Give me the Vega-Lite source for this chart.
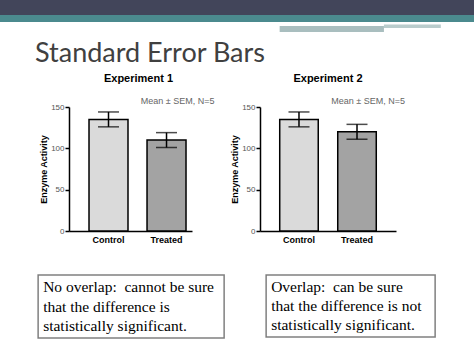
{
  "$schema": "https://vega.github.io/schema/vega-lite/v6.json",
  "padding": 0,
  "background": "white",
  "config": {"view": {"stroke": null}, "font": "Liberation Sans"},
  "resolve": {"scale": {"color": "independent"}},
  "center": true,
  "spacing": 6,
  "vconcat": [
    {
      "width": 474,
      "height": 32,
      "title": {"text": "Standard Error Bars", "orient": "bottom", "anchor": "start", "frame": "group", "dx": 35, "offset": 9, "fontSize": 27, "font": "Lato", "fontWeight": "normal", "color": "#404040"},
      "data": {"values": [
        {"band": "dark", "x0": 0, "x1": 100, "y0": 0, "y1": 15},
        {"band": "teal", "x0": 0, "x1": 100, "y0": 15, "y1": 22},
        {"band": "pale", "x0": 59, "x1": 81, "y0": 26, "y1": 32},
        {"band": "pale2", "x0": 81, "x1": 93, "y0": 24.5, "y1": 28}
      ]},
      "mark": {"type": "rect"},
      "encoding": {
        "x": {"field": "x0", "type": "quantitative", "scale": {"domain": [0, 100]}, "axis": null},
        "x2": {"field": "x1"},
        "y": {"field": "y0", "type": "quantitative", "scale": {"domain": [0, 32], "reverse": true}, "axis": null},
        "y2": {"field": "y1"},
        "color": {"field": "band", "type": "nominal", "scale": {"domain": ["dark", "teal", "pale", "pale2"], "range": ["#42455a", "#4b8a8e", "#a9bebf", "#b9cccc"]}, "legend": null}
      }
    },
    {
      "hconcat": [
        {
          "width": 123,
          "height": 124,
          "title": {"text": "Experiment 1", "fontSize": 11, "fontWeight": "bold", "font": "Liberation Sans", "color": "black", "dx": 8, "offset": 13},
          "data": {"values": [
            {"group": "Control", "mean": 135, "lo": 126, "hi": 144},
            {"group": "Treated", "mean": 110, "lo": 101, "hi": 119}
          ]},
          "encoding": {
            "x": {"field": "group", "type": "nominal", "scale": {"paddingInner": 0.328, "paddingOuter": 0.224, "align": 0.77},
              "axis": {"title": null, "labelAngle": 0, "ticks": false, "labelFontSize": 9, "labelFontWeight": "bold", "labelColor": "black", "labelPadding": 4, "domainColor": "black", "domainWidth": 1.5}}
          },
          "layer": [
            {
              "mark": {"type": "bar", "stroke": "black", "strokeWidth": 1.5},
              "encoding": {
                "y": {"field": "mean", "type": "quantitative", "scale": {"domain": [0, 150], "nice": false},
                  "axis": {"title": "Enzyme Activity", "values": [0, 50, 100, 150], "grid": false, "domainColor": "black", "domainWidth": 1.5, "tickColor": "black", "tickWidth": 1.5, "tickSize": 4, "labelColor": "#555555", "labelFontSize": 8, "labelPadding": 1, "titleFontSize": 9, "titleFontWeight": "bold", "titleColor": "black", "titlePadding": 2}},
                "color": {"field": "group", "type": "nominal", "scale": {"domain": ["Control", "Treated"], "range": ["#dadada", "#a3a3a3"]}, "legend": null}
              }
            },
            {
              "mark": {"type": "rule", "strokeWidth": 1.5, "color": "black"},
              "encoding": {
                "y": {"field": "lo", "type": "quantitative"},
                "y2": {"field": "hi"}
              }
            },
            {
              "mark": {"type": "tick", "size": 21, "thickness": 1.5, "color": "black", "orient": "horizontal"},
              "encoding": {
                "y": {"field": "lo", "type": "quantitative"}
              }
            },
            {
              "mark": {"type": "tick", "size": 21, "thickness": 1.5, "color": "black", "orient": "horizontal"},
              "encoding": {
                "y": {"field": "hi", "type": "quantitative"}
              }
            },
            {
              "data": {"values": [{"note": "Mean ± SEM, N=5"}]},
              "mark": {"type": "text", "fontSize": 9, "color": "#666666", "align": "right", "dx": 48, "dy": -6, "baseline": "middle"},
              "encoding": {
                "x": {"datum": "Treated"},
                "y": {"datum": 150},
                "text": {"field": "note"}
              }
            }
          ]
        },
        {
          "width": 136,
          "height": 124,
          "title": {"text": "Experiment 2", "fontSize": 11, "fontWeight": "bold", "font": "Liberation Sans", "color": "black", "offset": 13},
          "data": {"values": [
            {"group": "Control", "mean": 135, "lo": 126, "hi": 144},
            {"group": "Treated", "mean": 120, "lo": 111, "hi": 129}
          ]},
          "encoding": {
            "x": {"field": "group", "type": "nominal", "scale": {"paddingInner": 0.336, "paddingOuter": 0.34, "align": 0.5},
              "axis": {"title": null, "labelAngle": 0, "ticks": false, "labelFontSize": 9, "labelFontWeight": "bold", "labelColor": "black", "labelPadding": 4, "domainColor": "black", "domainWidth": 1.5}}
          },
          "layer": [
            {
              "mark": {"type": "bar", "stroke": "black", "strokeWidth": 1.5},
              "encoding": {
                "y": {"field": "mean", "type": "quantitative", "scale": {"domain": [0, 150], "nice": false},
                  "axis": {"title": "Enzyme Activity", "values": [0, 50, 100, 150], "grid": false, "domainColor": "black", "domainWidth": 1.5, "tickColor": "black", "tickWidth": 1.5, "tickSize": 4, "labelColor": "#555555", "labelFontSize": 8, "labelPadding": 1, "titleFontSize": 9, "titleFontWeight": "bold", "titleColor": "black", "titlePadding": 2}},
                "color": {"field": "group", "type": "nominal", "scale": {"domain": ["Control", "Treated"], "range": ["#dadada", "#a3a3a3"]}, "legend": null}
              }
            },
            {
              "mark": {"type": "rule", "strokeWidth": 1.5, "color": "black"},
              "encoding": {
                "y": {"field": "lo", "type": "quantitative"},
                "y2": {"field": "hi"}
              }
            },
            {
              "mark": {"type": "tick", "size": 21, "thickness": 1.5, "color": "black", "orient": "horizontal"},
              "encoding": {
                "y": {"field": "lo", "type": "quantitative"}
              }
            },
            {
              "mark": {"type": "tick", "size": 21, "thickness": 1.5, "color": "black", "orient": "horizontal"},
              "encoding": {
                "y": {"field": "hi", "type": "quantitative"}
              }
            },
            {
              "data": {"values": [{"note": "Mean ± SEM, N=5"}]},
              "mark": {"type": "text", "fontSize": 9, "color": "#666666", "align": "right", "dx": 48, "dy": -6, "baseline": "middle"},
              "encoding": {
                "x": {"datum": "Treated"},
                "y": {"datum": 150},
                "text": {"field": "note"}
              }
            }
          ]
        }
      ],
      "spacing": 15
    },
    {
      "width": 1,
      "height": 18,
      "data": {"values": []},
      "mark": "rect",
      "encoding": {}
    },
    {
      "hconcat": [
        {
          "width": 186,
          "height": 63,
          "view": {"stroke": "#808080", "strokeWidth": 1.5},
          "data": {"values": [
            {"line": 1, "text": "No overlap:\u00a0 cannot be sure"},
            {"line": 2, "text": "that the difference is"},
            {"line": 3, "text": "statistically significant."}
          ]},
          "mark": {"type": "text", "align": "left", "baseline": "middle", "font": "Liberation Serif", "fontSize": 15.5, "color": "black", "dx": 5},
          "encoding": {
            "x": {"datum": 0, "type": "quantitative", "scale": {"domain": [0, 1]}, "axis": null},
            "y": {"field": "line", "type": "ordinal", "scale": {"type": "point", "padding": 0.62}, "axis": null},
            "text": {"field": "text"}
          }
        },
        {
          "width": 169,
          "height": 62,
          "view": {"stroke": "#808080", "strokeWidth": 1.5},
          "data": {"values": [
            {"line": 1, "text": "Overlap:\u00a0 can be sure"},
            {"line": 2, "text": "that the difference is not"},
            {"line": 3, "text": "statistically significant."}
          ]},
          "mark": {"type": "text", "align": "left", "baseline": "middle", "font": "Liberation Serif", "fontSize": 15.5, "color": "black", "dx": 5},
          "encoding": {
            "x": {"datum": 0, "type": "quantitative", "scale": {"domain": [0, 1]}, "axis": null},
            "y": {"field": "line", "type": "ordinal", "scale": {"type": "point", "padding": 0.62}, "axis": null},
            "text": {"field": "text"}
          }
        }
      ],
      "spacing": 40
    }
  ]
}
